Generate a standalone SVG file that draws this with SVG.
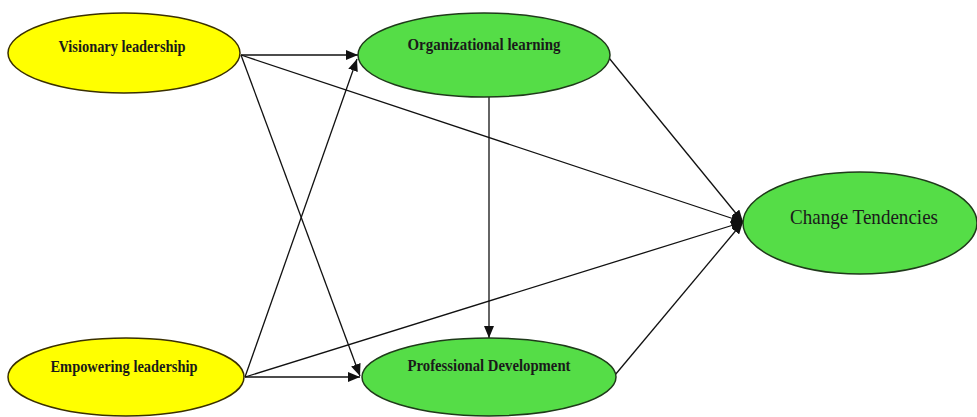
<svg xmlns="http://www.w3.org/2000/svg" width="977" height="417" viewBox="0 0 977 417">
<style>
.y{fill:#ffff00;stroke:#3a3000;stroke-width:1.5}
.g{fill:#55dd47;stroke:#1f3a1a;stroke-width:1.5}
.t{font-family:"Liberation Serif","Times New Roman",serif;font-weight:bold;font-size:17px;fill:#1a1a1a;text-anchor:middle}
.tc{font-family:"Liberation Serif","Times New Roman",serif;font-size:21px;fill:#1a1a1a;text-anchor:middle}
.c line{stroke:#111;stroke-width:1.3;fill:none}
</style>
<defs>
<marker id="a" viewBox="0 0 12 10" refX="12" refY="5" markerWidth="12" markerHeight="10" markerUnits="userSpaceOnUse" orient="auto">
<path d="M0,0 L12,5 L0,10 Z" fill="#111"/>
</marker>
</defs>
<rect width="977" height="417" fill="#ffffff"/>
<g class="c">
<line x1="241" y1="55" x2="358" y2="55" marker-end="url(#a)"/>
<line x1="241" y1="55" x2="743" y2="222" marker-end="url(#a)"/>
<line x1="241" y1="55" x2="360" y2="376" marker-end="url(#a)"/>
<line x1="245" y1="377" x2="360" y2="377" marker-end="url(#a)"/>
<line x1="245" y1="377" x2="357" y2="59" marker-end="url(#a)"/>
<line x1="245" y1="377" x2="743" y2="222" marker-end="url(#a)"/>
<line x1="489" y1="97" x2="489" y2="338" marker-end="url(#a)"/>
<line x1="609" y1="58" x2="743" y2="222" marker-end="url(#a)"/>
<line x1="615" y1="375" x2="743" y2="222" marker-end="url(#a)"/>
</g>
<g id="visionary">
<ellipse class="y" cx="124" cy="53" rx="116" ry="40"/>
<text class="t" x="122" y="52" textLength="127" lengthAdjust="spacingAndGlyphs">Visionary leadership</text>
</g>
<g id="organizational">
<ellipse class="g" cx="484" cy="55" rx="126" ry="42"/>
<text class="t" x="484" y="50" textLength="153" lengthAdjust="spacingAndGlyphs">Organizational learning</text>
</g>
<g id="empowering">
<ellipse class="y" cx="126" cy="377" rx="118" ry="39"/>
<text class="t" x="124" y="372" textLength="147" lengthAdjust="spacingAndGlyphs">Empowering leadership</text>
</g>
<g id="professional">
<ellipse class="g" cx="489" cy="377" rx="127" ry="39"/>
<text class="t" x="489" y="371" textLength="163" lengthAdjust="spacingAndGlyphs">Professional Development</text>
</g>
<g id="change">
<ellipse class="g" cx="860" cy="223" rx="117" ry="51"/>
<text class="tc" x="864" y="224" textLength="148" lengthAdjust="spacingAndGlyphs">Change Tendencies</text>
</g>
</svg>
